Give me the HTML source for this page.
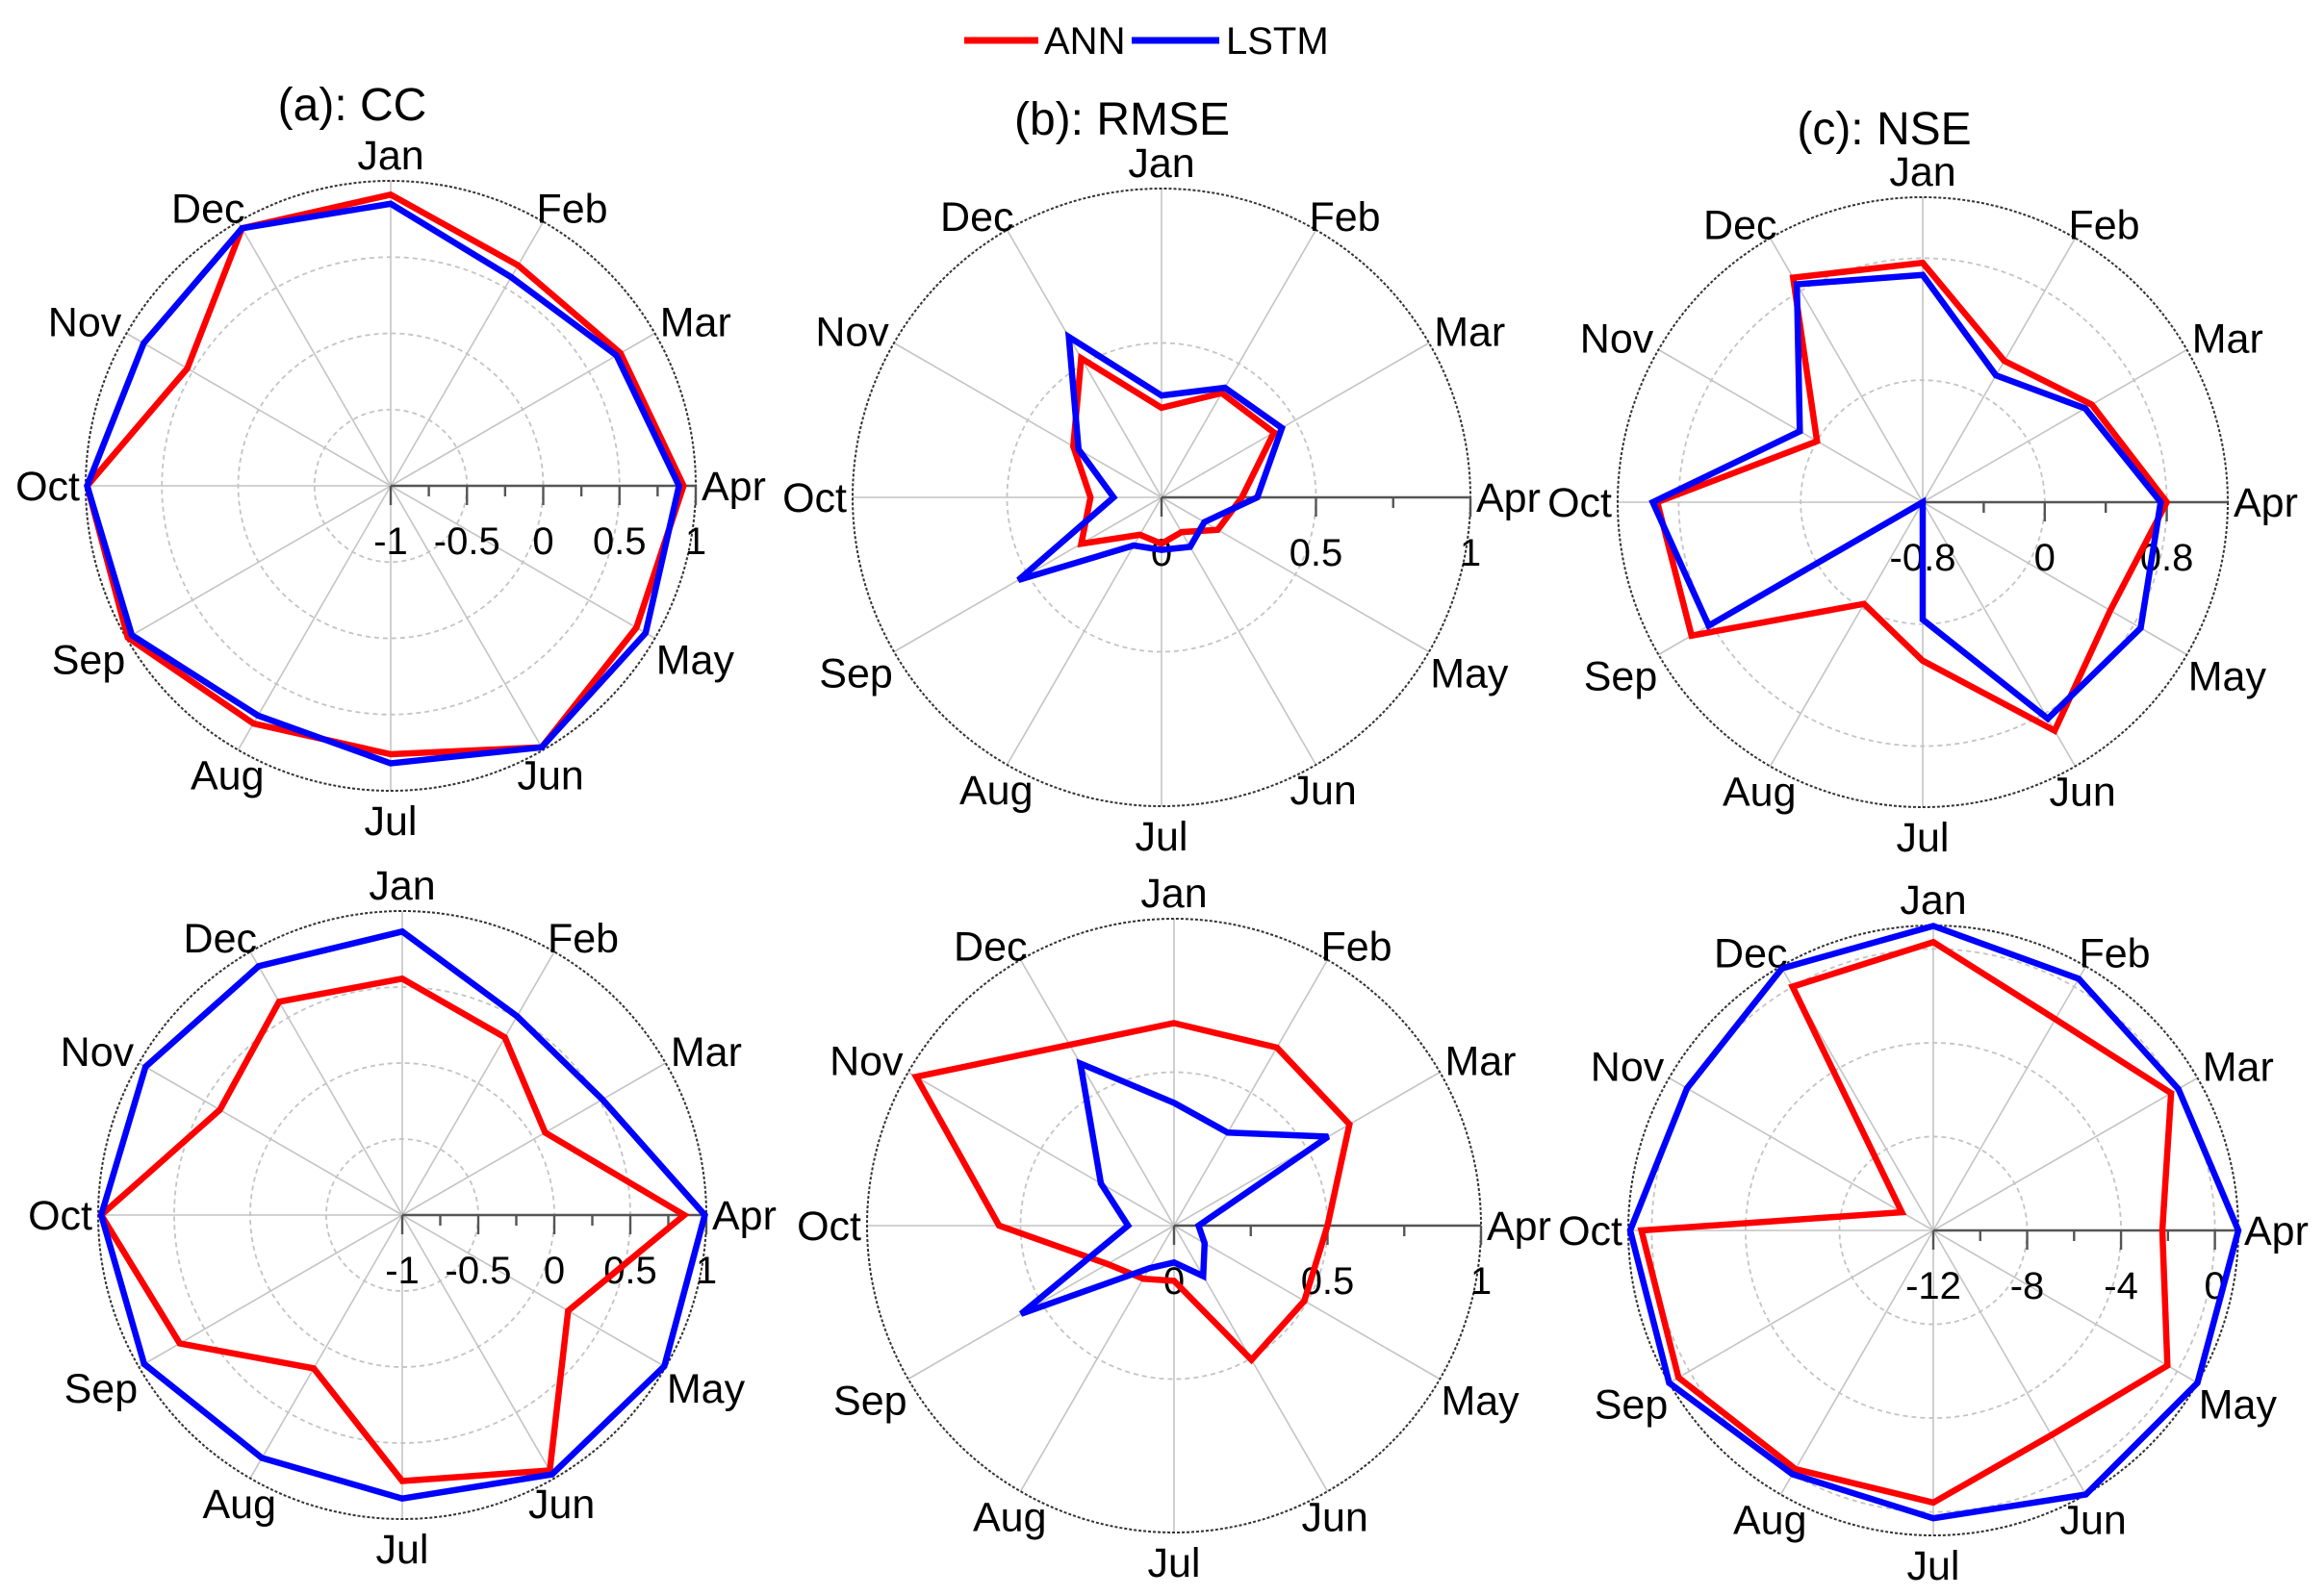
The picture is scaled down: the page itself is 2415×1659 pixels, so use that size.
<!DOCTYPE html>
<html><head><meta charset="utf-8">
<style>
html,body{margin:0;padding:0;background:#fff;}
svg{display:block;font-family:"Liberation Sans",Arial,sans-serif;}
</style></head>
<body>
<svg id="fig" width="2415" height="1659" viewBox="0 0 2415 1659" xmlns="http://www.w3.org/2000/svg">
  <g>
    <line x1="1002" y1="42" x2="1079" y2="42" stroke="#ff0000" stroke-width="7"/>
    <text x="1085" y="56" font-size="40">ANN</text>
    <line x1="1176" y1="42" x2="1267" y2="42" stroke="#0000ff" stroke-width="7"/>
    <text x="1274" y="56" font-size="40">LSTM</text>
  </g>
  <text x="366" y="125" font-size="48" text-anchor="middle">(a): CC</text>
  <text x="1166" y="140" font-size="48" text-anchor="middle">(b): RMSE</text>
  <text x="1958" y="150" font-size="48" text-anchor="middle">(c): NSE</text>
</svg>
<script>
const months = ["Jan","Feb","Mar","Apr","May","Jun","Jul","Aug","Sep","Oct","Nov","Dec"];
const ccTopAnn   = [0.91,0.67,0.74,0.92,0.86,0.98,0.76,0.80,0.99,0.99,0.54,0.95];
const ccTopLstm  = [0.85,0.58,0.71,0.89,0.93,0.98,0.82,0.74,0.96,0.99,0.87,0.95];
const rmseTopAnn  = [0.29,0.39,0.42,0.26,0.21,0.13,0.15,0.14,0.30,0.23,0.33,0.52];
const rmseTopLstm = [0.33,0.41,0.45,0.31,0.16,0.185,0.17,0.18,0.535,0.155,0.31,0.60];
const nseTopAnn  = [0.77,0.27,0.48,0.80,0.62,0.93,0.24,-0.03,0.95,0.94,0.0,0.90];
const nseTopLstm = [0.69,0.16,0.43,0.76,0.85,0.84,-0.03,-0.8,0.82,0.97,0.13,0.85];
const ccBotAnn   = [0.555,0.35,0.085,0.855,0.26,0.94,0.75,0.165,0.69,0.98,0.385,0.62];
const ccBotLstm  = [0.865,0.51,0.52,0.99,0.99,0.97,0.865,0.845,0.96,0.98,0.95,0.89];
const rmseBotAnn  = [0.66,0.67,0.66,0.50,0.49,0.505,0.18,0.2,0.25,0.57,0.97,0.68];
const rmseBotLstm = [0.40,0.35,0.58,0.08,0.115,0.19,0.12,0.16,0.575,0.15,0.275,0.61];
const nseBotAnn  = [0.29,-1.6,-0.30,-2.24,-0.48,-1.93,-0.4,-0.25,0.54,0.44,-10.45,0.0];
const nseBotLstm = [0.98,0.39,0.06,1.0,1.0,1.0,0.27,0.0,1.0,0.92,0.12,0.9];
const ccTicks = ["-1","-0.5","0","0.5","1"];
const rmseTicks = ["0","0.5","1"];
const nseTopTicks = ["-0.8","0","0.8"];
const nseBotTicks = ["-12","-8","-4","0"];

const panels = [
 {id:"cc-top",cx:406,cy:505,R:317,min:-1,max:1,rings:[-0.5,0,0.5],major:[-1,-0.5,0,0.5,1],minor:[-0.75,-0.25,0.25,0.75],labels:ccTicks,ann:ccTopAnn,lstm:ccTopLstm},
 {id:"rmse-top",cx:1207,cy:517,R:321,min:0,max:1,rings:[0.5],major:[0,0.5,1],minor:[0.25,0.75],labels:rmseTicks,ann:rmseTopAnn,lstm:rmseTopLstm},
 {id:"nse-top",cx:1998,cy:522,R:317,min:-0.8,max:1.2,rings:[0,0.8],major:[-0.8,0,0.8],minor:[-0.4,0.4],labels:nseTopTicks,ann:nseTopAnn,lstm:nseTopLstm},
 {id:"cc-bottom",cx:418,cy:1263,R:316,min:-1,max:1,rings:[-0.5,0,0.5],major:[-1,-0.5,0,0.5,1],minor:[-0.75,-0.25,0.25,0.75],labels:ccTicks,ann:ccBotAnn,lstm:ccBotLstm},
 {id:"rmse-bottom",cx:1220,cy:1274,R:319,min:0,max:1,rings:[0.5],major:[0,0.5,1],minor:[0.25,0.75],labels:rmseTicks,ann:rmseBotAnn,lstm:rmseBotLstm},
 {id:"nse-bottom",cx:2009,cy:1279,R:317,min:-12,max:1,rings:[-8,-4,0],major:[-12,-8,-4,0],minor:[-10,-6,-2],labels:nseBotTicks,ann:nseBotAnn,lstm:nseBotLstm}
];
const NS="http://www.w3.org/2000/svg";
const svg=document.getElementById("fig");
function mk(tag,attrs,parent){const e=document.createElementNS(NS,tag);for(const k in attrs)e.setAttribute(k,attrs[k]);parent.appendChild(e);return e;}

panels.forEach(p=>{
  const g=mk("g",{},svg);
  
  
  const rad=v=>(v-p.min)/(p.max-p.min)*p.R;
  const pt=(i,r)=>{const a=i*Math.PI/6;return [p.cx+r*Math.sin(a),p.cy-r*Math.cos(a)];};
  for(let i=0;i<12;i++){
    const [x,y]=pt(i,p.R);
    const s=mk("line",{x1:p.cx,y1:p.cy,x2:x,y2:y,stroke:"#c4c4c4","stroke-width":1.6},g);
    
    
  }
  p.rings.forEach(v=>{
    const c=mk("circle",{cx:p.cx,cy:p.cy,r:rad(v),fill:"none",stroke:"#c4c4c4","stroke-width":1.8,"stroke-dasharray":"5,4"},g);
    
    
  });
  const oc=mk("circle",{cx:p.cx,cy:p.cy,r:p.R,fill:"none",stroke:"#333","stroke-width":2,"stroke-dasharray":"3,2"},g);
  
  
  const ax=mk("line",{x1:p.cx,y1:p.cy,x2:p.cx+p.R,y2:p.cy,stroke:"#555","stroke-width":2.4},g);
  
  
  p.major.forEach((v,k)=>{
    const x=p.cx+rad(v);
    const t=mk("line",{x1:x,y1:p.cy,x2:x,y2:p.cy+20,stroke:"#555","stroke-width":2.4},g);
    
    
    const tl=mk("text",{x:x,y:p.cy+71,"font-size":40,"text-anchor":"middle"},g);
    tl.textContent=p.labels[k];
    
    
  });
  p.minor.forEach(v=>{
    const x=p.cx+rad(v);
    const t=mk("line",{x1:x,y1:p.cy,x2:x,y2:p.cy+11,stroke:"#555","stroke-width":2.4},g);
    
    
  });
  months.forEach((m,i)=>{
    const a=i*Math.PI/6, s=Math.sin(a), c=Math.cos(a);
    let [x,y]=pt(i,p.R+6);
    let anchor="middle", by, sg=0;
    if(s>0.1){anchor="start";sg=1;} else if(s<-0.1){anchor="end";sg=-1;}
    const diag=Math.abs(Math.abs(s)-0.5)<0.01;
    if(diag){ const sh = c>0 ? 10 : 30; x -= sg*sh; }
    if(c>0.9) by=y-6;
    else if(c<-0.9) by=y+40;
    else if(c>0.1) by=y+6;
    else if(c<-0.1) by=y+36;
    else by=y+15;
    if(!diag && c<-0.1 && c>-0.9) { by=y+34; x -= sg*4; }
    const t=mk("text",{x:x,y:by,"font-size":43,"text-anchor":anchor},g);
    t.textContent=m;
    
    
  });
  const poly=(vals,color,name)=>{
    const pts=vals.map((v,i)=>pt(i,rad(v)).map(n=>n.toFixed(1)).join(",")).join(" ");
    const pl=mk("polygon",{points:pts,fill:"none",stroke:color,"stroke-width":6.5,"stroke-linejoin":"miter","stroke-miterlimit":3},g);
    
    
  };
  poly(p.ann,"#ff0000",'ann-series');
  poly(p.lstm,"#0000ff",'lstm-series');
});
</script>
</body></html>
